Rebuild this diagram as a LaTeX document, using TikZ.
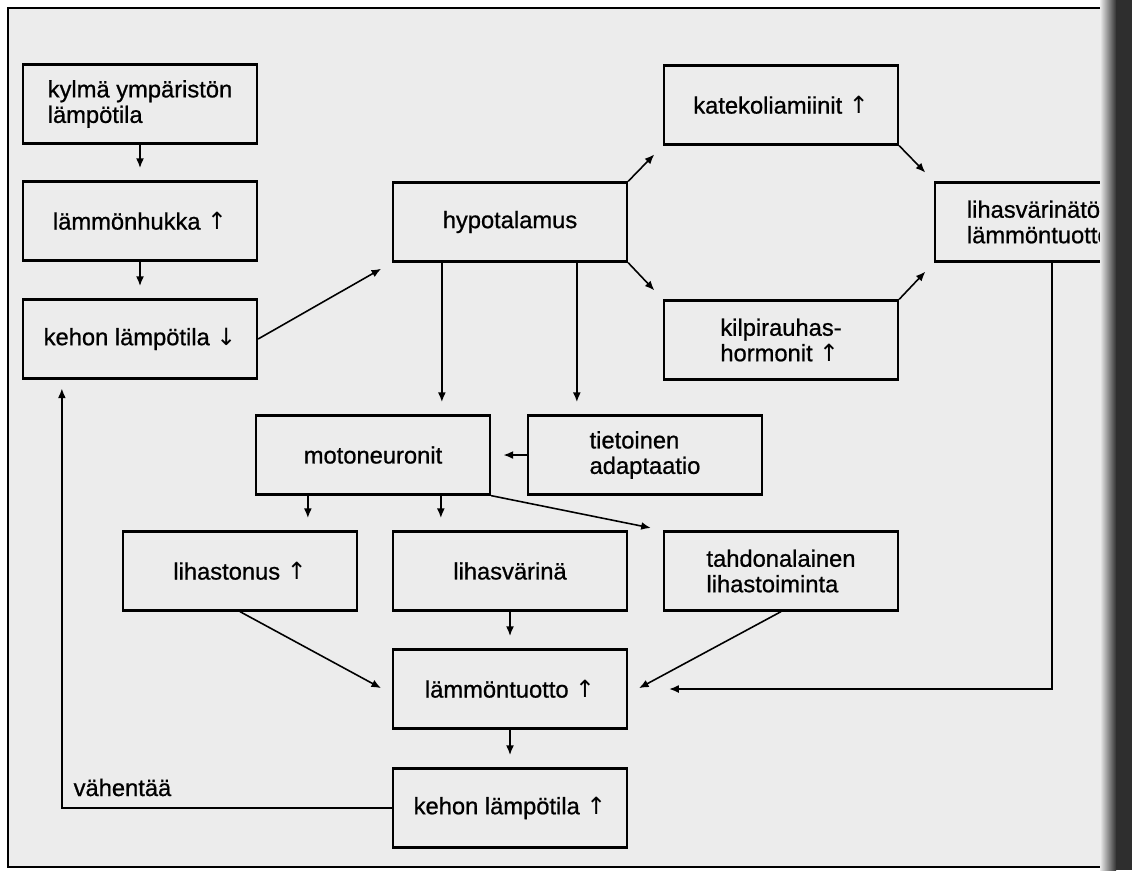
\documentclass[tikz,border=0pt]{standalone}
\usepackage{fontspec}
\setmainfont{Liberation Sans}[FakeBold=0.8]
\newfontfamily\nuolifont{DejaVu Sans}
\usetikzlibrary{arrows.meta}
\definecolor{paper}{RGB}{236,236,236}
\newcommand{\boxwidth}{4.68cm}
\newcommand{\boxheight}{1.58cm}
\newcommand{\ylos}{{\nuolifont ↑}}
\newcommand{\alas}{{\nuolifont ↓}}

\begin{document}
\begin{tikzpicture}[x=0.02cm, y=-0.02cm,
    font=\fontsize{13.5}{14.5}\selectfont,
    box/.style={draw, line width=1.3pt, minimum width=\boxwidth,
        minimum height=\boxheight, align=left, inner sep=0pt},
    arr/.style={-{Latex[length=5.5pt,width=4.5pt]}, line width=0.9pt, shorten >=7pt}]
    \useasboundingbox (0,0) rectangle (1132,870);
    \clip (0,0) rectangle (1132,870);
    \fill[white] (0,0) rectangle (1132,870);
    \fill[paper] (8,8) rectangle (1132,867);
    \draw[line width=1.2pt] (1140,8) -- (8,8) -- (8,867) -- (1140,867);

    \node[box] (kylma) at (140,104) {kylmä ympäristön\\lämpötila};
    \node[box] (hukka) at (140,221) {lämmönhukka \ylos};
    \node[box] (kehoalas) at (140,339) {kehon lämpötila \alas};
    \node[box] (hypo) at (510,222) {hypotalamus};
    \node[box] (kateko) at (781,105) {katekoliamiinit \ylos};
    \node[box] (kilpi) at (781,340) {kilpirauhas-\\hormonit \ylos};
    \node[box] (varinaton) at (1052,222) {lihasvärinätön\\lämmöntuotto \ylos};
    \node[box] (moto) at (373,455) {motoneuronit};
    \node[box] (tieto) at (645,455) {tietoinen\\adaptaatio};
    \node[box] (tonus) at (240,571) {lihastonus \ylos};
    \node[box] (varina) at (510,571) {lihasvärinä};
    \node[box] (tahdon) at (781,571) {tahdonalainen\\lihastoiminta};
    \node[box] (tuotto) at (510,689) {lämmöntuotto \ylos};
    \node[box] (kehoylos) at (510,808) {kehon lämpötila \ylos};

    \draw[arr] (kylma) -- (hukka);
    \draw[arr] (hukka) -- (kehoalas);
    \draw[arr] (kehoalas.east) -- (hypo.south west);
    \draw[arr] (hypo.north east) -- (kateko.south west);
    \draw[arr] (hypo.south east) -- (kilpi.north west);
    \draw[arr] (kateko.south east) -- (varinaton.north west);
    \draw[arr] (kilpi.north east) -- (varinaton.south west);

    \coordinate (h1) at ([xshift=1cm]hypo.south west);
    \coordinate (h2) at ([xshift=3.7cm]hypo.south west);
    \draw[arr] (h1) -- (h1 |- moto.north);
    \draw[arr] (h2) -- (h2 |- tieto.north);
    \draw[arr] (tieto.west) -- (moto.east);

    \coordinate (m1) at ([xshift=1.06cm]moto.south west);
    \coordinate (m2) at ([xshift=3.72cm]moto.south west);
    \draw[arr] (m1) -- (m1 |- tonus.north);
    \draw[arr] (m2) -- (m2 |- varina.north);
    \draw[arr] (moto.south east) -- (tahdon.north west);

    \draw[arr] (tonus.south) -- ([yshift=-0.1cm]tuotto.west);
    \draw[arr] (tahdon.south) -- ([yshift=-0.1cm]tuotto.east);
    \draw[arr] (varina) -- (tuotto);
    \draw[arr] (tuotto) -- (kehoylos);
    \draw[arr, shorten >=0.82cm] (varinaton.south) |- (tuotto.east);
    \draw[arr, shorten >=5pt] (kehoylos.west) -| ([xshift=0.8cm]kehoalas.south west)
        node[pos=0.5, anchor=base west, inner sep=0pt, xshift=0.22cm, yshift=0.24cm] {vähentää};

    \shade[left color=paper, right color=black!80] (1100,0) rectangle (1116,870);
    \fill[black!82] (1116,0) rectangle (1132,870);
\end{tikzpicture}
\end{document}
